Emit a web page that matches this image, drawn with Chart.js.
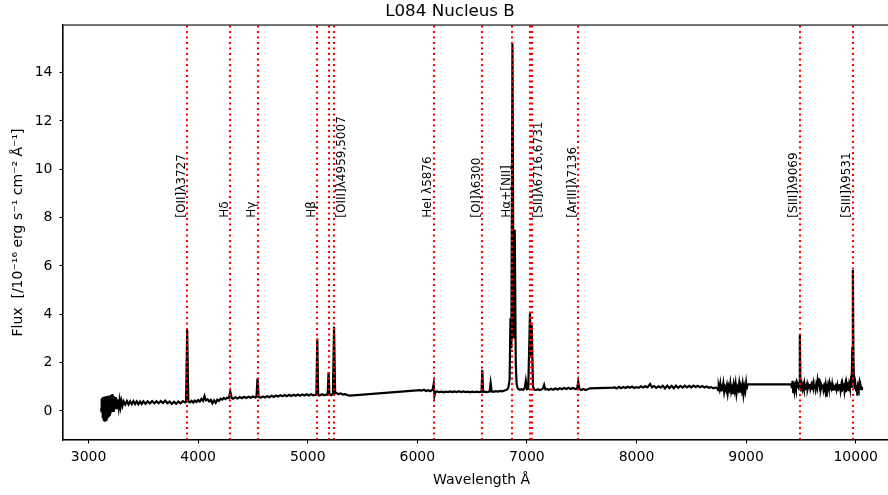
<!DOCTYPE html>
<html>
<head>
<meta charset="utf-8">
<script src="https://cdn.jsdelivr.net/npm/chart.js@4.4.1/dist/chart.umd.min.js"></script>
<style>
  html, body { margin: 0; padding: 0; overflow: hidden; background: #fff; }
  #wrap { width: 900px; height: 495px; }
</style>
</head>
<body>
<div id="wrap"><canvas id="chart" width="900" height="495"></canvas></div>
<script>
const wavelength = [
  3114, 3118, 3122, 3126, 3130, 3134, 3138, 3142, 3146, 3150,
  3154, 3158, 3162, 3166, 3170, 3175, 3180, 3185, 3190, 3195,
  3200, 3206, 3212, 3218, 3224, 3230, 3236, 3242, 3248, 3254,
  3260, 3268, 3276, 3284, 3292, 3300, 3310, 3320, 3335, 3350,
  3365, 3380, 3395, 3410, 3425, 3440, 3455, 3470, 3485, 3500,
  3520, 3540, 3560, 3580, 3600, 3620, 3640, 3660, 3680, 3700,
  3720, 3740, 3760, 3780, 3800, 3820, 3840, 3860, 3880, 3890,
  3900, 3910, 3925, 3940, 3955, 3970, 3985, 4000, 4015, 4030,
  4045, 4058, 4070, 4085, 4100, 4115, 4130, 4145, 4160, 4175,
  4190, 4205, 4220, 4235, 4250, 4265, 4280, 4293, 4306, 4320,
  4340, 4360, 4380, 4400, 4420, 4440, 4460, 4480, 4500, 4520,
  4532, 4542, 4552, 4570, 4590, 4610, 4630, 4650, 4670, 4690,
  4710, 4730, 4750, 4770, 4790, 4810, 4830, 4850, 4870, 4890,
  4910, 4930, 4950, 4970, 4990, 5010, 5030, 5050, 5070, 5079,
  5087, 5095, 5110, 5130, 5150, 5170, 5182, 5190, 5198, 5215,
  5230, 5240, 5250, 5265, 5280, 5300, 5320, 5340, 5360, 5385,
  6025, 6040, 6060, 6080, 6100, 6120, 6135, 6142, 6149, 6156,
  6165, 6180, 6200, 6220, 6240, 6260, 6280, 6300, 6320, 6340,
  6360, 6380, 6400, 6420, 6440, 6460, 6480, 6500, 6520, 6540,
  6560, 6580, 6586, 6593, 6600, 6615, 6630, 6645, 6660, 6669,
  6678, 6695, 6715, 6735, 6755, 6775, 6795, 6815, 6830, 6842,
  6850, 6858, 6868, 6878, 6889, 6898, 6906, 6918, 6935, 6950,
  6965, 6980, 6990, 7000, 7012, 7028, 7036, 7044, 7055, 7068,
  7085, 7100, 7115, 7130, 7145, 7157, 7168, 7185, 7200, 7220,
  7240, 7260, 7280, 7300, 7320, 7340, 7360, 7380, 7400, 7420,
  7440, 7458, 7468, 7478, 7495, 7515, 7535, 7555, 7575, 7785,
  7800, 7820, 7840, 7860, 7880, 7900, 7920, 7940, 7960, 7980,
  8000, 8020, 8040, 8060, 8080, 8100, 8124, 8140, 8160, 8180,
  8200, 8220, 8240, 8260, 8280, 8300, 8320, 8340, 8360, 8380,
  8400, 8420, 8440, 8460, 8480, 8500, 8520, 8540, 8560, 8580,
  8600, 8620, 8640, 8660, 8680, 8700, 8720, 8736, 8744, 8750,
  8758, 8764, 8770, 8778, 8786, 8792, 8800, 8808, 8816, 8824,
  8832, 8840, 8848, 8856, 8864, 8872, 8880, 8888, 8896, 8904,
  8912, 8920, 8928, 8936, 8944, 8952, 8960, 8968, 8976, 8984,
  8992, 9000, 9006, 9012,
  9412, 9418, 9424, 9430, 9436, 9442, 9448, 9454, 9460, 9466,
  9472, 9478, 9484, 9490, 9496, 9502, 9508, 9514, 9520, 9526,
  9532, 9538, 9544, 9550, 9556, 9562, 9568, 9574, 9580, 9586,
  9592, 9598, 9604, 9610, 9616, 9622, 9628, 9634, 9640, 9646,
  9652, 9658, 9664, 9670, 9676, 9682, 9688, 9694, 9700, 9706,
  9712, 9718, 9724, 9730, 9736, 9742, 9748, 9754, 9760, 9766,
  9772, 9778, 9784, 9790, 9796, 9802, 9808, 9814, 9820, 9826,
  9832, 9838, 9844, 9850, 9856, 9862, 9868, 9874, 9880, 9886,
  9892, 9898, 9904, 9910, 9916, 9922, 9928, 9934, 9940, 9946,
  9952, 9958, 9964, 9969, 9974, 9979, 9985, 9991, 9997, 10003,
  10009, 10015, 10021, 10027, 10033, 10039, 10045, 10051, 10057
];
const flux = [
  0.10, 0.50, -0.05, 0.55, -0.30, 0.58, -0.40, 0.52, -0.44, 0.60,
  -0.38, 0.48, -0.35, 0.62, -0.25, 0.55, -0.20, 0.64, -0.15, 0.58,
  -0.10, 0.66, -0.05, 0.70, 0.00, 0.62, 0.05, 0.58, 0.10, 0.52,
  0.12, 0.48, 0.15, 0.45, 0.18, 0.42, 0.22, 0.40, 0.27, 0.41,
  0.27, 0.40, 0.28, 0.41, 0.29, 0.40, 0.28, 0.39, 0.29, 0.40,
  0.30, 0.40, 0.31, 0.41, 0.32, 0.40, 0.32, 0.41, 0.33, 0.43,
  0.32, 0.39, 0.29, 0.38, 0.30, 0.39, 0.32, 0.41, 0.35, 0.38,
  3.35, 0.40, 0.36, 0.42, 0.35, 0.43, 0.37, 0.45, 0.39, 0.50,
  0.42, 0.62, 0.44, 0.48, 0.40, 0.46, 0.32, 0.44, 0.34, 0.47,
  0.42, 0.51, 0.47, 0.54, 0.49, 0.55, 0.53, 0.80, 0.54, 0.51,
  0.57, 0.52, 0.58, 0.53, 0.59, 0.54, 0.59, 0.55, 0.60, 0.56,
  0.58, 1.35, 0.59, 0.55, 0.60, 0.56, 0.61, 0.57, 0.63, 0.58,
  0.64, 0.60, 0.65, 0.61, 0.66, 0.61, 0.67, 0.62, 0.67, 0.63,
  0.68, 0.63, 0.68, 0.64, 0.69, 0.64, 0.69, 0.65, 0.67, 0.66,
  3.00, 0.67, 0.64, 0.69, 0.65, 0.68, 0.67, 1.60, 0.69, 0.65,
  0.71, 3.49, 0.73, 0.75, 0.69, 0.73, 0.68, 0.70, 0.66, 0.64,
  0.86, 0.84, 0.88, 0.83, 0.86, 0.82, 0.87, 0.95, 1.12, 0.62,
  0.78, 0.81, 0.78, 0.80, 0.77, 0.80, 0.78, 0.81, 0.78, 0.81,
  0.78, 0.82, 0.78, 0.81, 0.78, 0.80, 0.77, 0.80, 0.78, 0.80,
  0.78, 0.79, 0.80, 1.70, 0.79, 0.80, 0.78, 0.79, 0.81, 1.15,
  0.81, 0.79, 0.82, 0.80, 0.83, 0.81, 0.85, 0.88, 0.95, 1.30,
  3.85, 2.60, 15.20, 3.00, 7.50, 2.00, 1.10, 0.92, 0.88, 0.90,
  0.87, 0.95, 1.25, 0.90, 0.92, 4.04, 2.20, 3.56, 1.00, 0.88,
  0.87, 0.90, 0.87, 0.89, 0.92, 1.08, 0.89, 0.91, 0.87, 0.92,
  0.88, 0.93, 0.89, 0.94, 0.90, 0.95, 0.91, 0.96, 0.91, 0.95,
  0.91, 0.93, 1.21, 0.92, 0.87, 0.91, 0.87, 0.90, 0.94, 0.97,
  0.98, 0.93, 1.00, 0.94, 0.99, 0.95, 1.00, 0.96, 1.01, 0.95,
  0.99, 0.96, 1.02, 0.97, 1.02, 0.98, 1.12, 0.98, 1.03, 0.96,
  1.02, 0.97, 1.04, 0.93, 1.05, 0.95, 1.04, 0.94, 1.05, 0.96,
  1.04, 0.97, 1.05, 0.98, 1.04, 0.98, 1.05, 0.99, 1.04, 0.98,
  1.03, 0.97, 1.01, 0.96, 0.99, 0.94, 0.97, 0.95, 0.86, 1.05,
  0.90, 1.10, 0.82, 1.00, 0.92, 1.12, 0.78, 0.98, 0.88, 1.06,
  0.74, 1.02, 0.90, 1.15, 0.80, 0.95, 0.70, 1.08, 0.85, 1.12,
  0.72, 0.98, 0.88, 1.14, 0.76, 1.02, 0.84, 1.10, 0.70, 1.00,
  0.82, 1.15, 0.90, 1.10,
  1.10, 0.95, 1.25, 0.78, 1.18, 0.85, 1.05, 0.92, 1.12, 0.98,
  1.08, 1.00, 1.15, 3.14, 1.10, 0.85, 1.05, 0.92, 1.08, 0.95,
  1.12, 0.90, 1.02, 0.96, 1.10, 0.93, 1.05, 0.97, 1.12, 0.92,
  1.03, 0.88, 1.08, 0.98, 1.15, 0.95, 1.06, 0.90, 1.10, 1.00,
  1.25, 1.05, 1.35, 1.02, 1.12, 0.92, 1.05, 0.95, 1.10, 0.88,
  1.02, 0.90, 1.06, 0.63, 1.00, 0.92, 1.08, 0.95, 1.12, 0.90,
  1.03, 0.94, 1.10, 0.85, 1.02, 0.93, 1.08, 0.88, 1.14, 0.92,
  1.05, 0.82, 1.00, 0.95, 1.12, 0.86, 1.04, 0.80, 1.08, 0.92,
  1.15, 0.85, 1.05, 0.78, 1.10, 0.90, 1.20, 0.82, 1.08, 0.95,
  1.18, 1.00, 1.30, 2.60, 5.83, 2.20, 1.15, 0.90, 1.10, 0.85,
  1.08, 0.63, 1.02, 0.92, 1.12, 0.88, 1.05, 0.90, 1.00
];

// Emission line markers (observed wavelengths)
const lineWaves = [3900, 4293, 4542, 5087, 5190, 5240, 6149, 6593, 6868, 7028, 7044, 7468, 9491, 9974];

// Line labels: text, anchor wavelength, which side of the marker
const labelText = ['[OII]λ3727', 'Hδ', 'Hγ', 'Hβ', '[OIII]λ4959,5007', 'HeI λ5876',
  '[OI]λ6300', 'Hα+[NII]', '[SII]λ6716,6731', '[ArIII]λ7136', '[SIII]λ9069', '[SIII]λ9531'];
const labelWave = [3900, 4293, 4542, 5087, 5240, 6149, 6593, 6868, 7044, 7468, 9491, 9974];
const labelSide = ['left', 'left', 'left', 'left', 'right', 'left', 'left', 'left', 'right', 'left', 'left', 'left'];
const labelFlux = 8;

const xTickValues = [3000, 4000, 5000, 6000, 7000, 8000, 9000, 10000];
const yTickValues = [0, 2, 4, 6, 8, 10, 12, 14];

const FONT = '"DejaVu Sans", sans-serif';
Chart.defaults.font.family = FONT;
Chart.defaults.color = '#000';

if (wavelength.length !== flux.length) console.warn('length mismatch', wavelength.length, flux.length);

// red dotted markers + rotated labels + frame
const lineMarkers = {
  id: 'lineMarkers',
  afterDatasetsDraw(chart) {
    const { ctx, chartArea: a, scales: { x, y } } = chart;
    ctx.save();
    ctx.beginPath();
    ctx.rect(a.left, a.top, a.right - a.left, a.bottom - a.top);
    ctx.clip();
    ctx.strokeStyle = '#ff0000';
    ctx.lineWidth = 2.1;
    ctx.setLineDash([2.1, 3.4]);
    lineWaves.forEach(w => {
      const px = Math.round(x.getPixelForValue(w));
      ctx.beginPath();
      ctx.moveTo(px, a.bottom);
      ctx.lineTo(px, a.top);
      ctx.stroke();
    });
    ctx.restore();

    ctx.save();
    ctx.fillStyle = '#000';
    ctx.font = '12px ' + FONT;
    ctx.textAlign = 'left';
    ctx.textBaseline = 'alphabetic';
    const py = y.getPixelForValue(labelFlux);
    labelText.forEach((t, i) => {
      const px = x.getPixelForValue(labelWave[i]) + (labelSide[i] === 'right' ? 10.7 : -2.5);
      ctx.save();
      ctx.translate(px, py);
      ctx.rotate(-Math.PI / 2);
      ctx.fillText(t, 0, 0);
      ctx.restore();
    });
    ctx.restore();

    ctx.save();
    ctx.strokeStyle = '#000';
    ctx.lineWidth = 1.1;
    ctx.strokeRect(a.left, a.top, a.right - a.left, a.bottom - a.top);
    ctx.restore();
  }
};

new Chart(document.getElementById('chart'), {
  type: 'line',
  data: {
    datasets: [{
      data: wavelength.map((w, i) => ({ x: w, y: flux[i] })),
      borderColor: '#000',
      borderWidth: 2.2,
      pointRadius: 0,
      tension: 0,
      fill: false
    }]
  },
  options: {
    responsive: false,
    animation: false,
    devicePixelRatio: 1,
    plugins: {
      legend: { display: false },
      tooltip: { enabled: false },
      title: {
        display: true,
        text: 'L084 Nucleus B',
        color: '#000',
        font: { size: 16.7, weight: 'normal', family: FONT },
        padding: { top: 2, bottom: 3 }
      }
    },
    scales: {
      x: {
        type: 'linear',
        min: 2767,
        max: 10404,
        afterBuildTicks: s => { s.ticks = xTickValues.map(v => ({ value: v })); },
        afterFit: s => { s.height = 55; },
        ticks: { color: '#000', font: { size: 14 }, padding: 5.5, maxRotation: 0, autoSkip: false, callback: v => String(v) },
        grid: { drawOnChartArea: false, drawTicks: true, tickLength: 3.5, tickColor: '#000', tickWidth: 1.1 },
        border: { display: true, color: '#000', width: 1.1 },
        title: { display: true, text: 'Wavelength Å', color: '#000', font: { size: 14 }, padding: { top: 0, bottom: 6 } }
      },
      y: {
        type: 'linear',
        min: -1.2,
        max: 15.97,
        afterBuildTicks: s => { s.ticks = yTickValues.map(v => ({ value: v })); },
        afterFit: s => { s.width = 63; },
        ticks: { color: '#000', font: { size: 14 }, padding: 7, callback: v => String(v) },
        grid: { drawOnChartArea: false, drawTicks: true, tickLength: 3.5, tickColor: '#000', tickWidth: 1.1 },
        border: { display: true, color: '#000', width: 1.1 },
        title: { display: true, text: 'Flux  [/10⁻¹⁶ erg s⁻¹ cm⁻² Å⁻¹]', color: '#000', font: { size: 14 }, padding: { top: 10, bottom: 0 } }
      }
    }
  },
  plugins: [lineMarkers]
});
</script>
</body>
</html>
